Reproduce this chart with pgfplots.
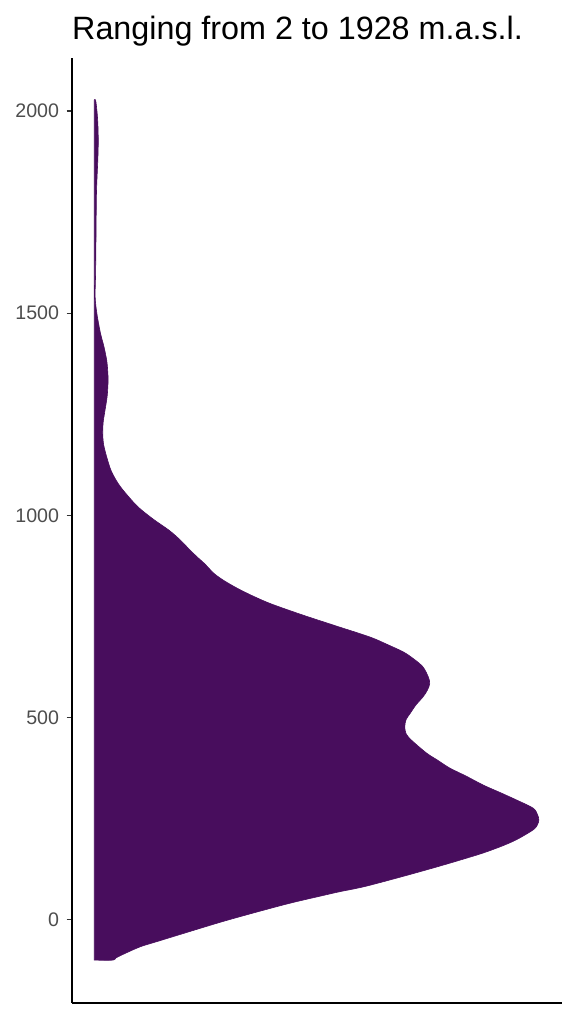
\documentclass[border=0pt]{standalone}
\usepackage{pgfplots}
\pgfplotsset{compat=1.18}
\usepackage{fontspec}
\setmainfont{Liberation Sans}
\definecolor{vfill}{RGB}{72,13,93}
\definecolor{ticklab}{RGB}{77,77,77}
\begin{document}
\begin{tikzpicture}
\useasboundingbox (-72pt,-21pt) rectangle (502pt,1003pt);
\begin{axis}[
  width=490pt, height=945pt, scale only axis,
  xmin=-0.05, xmax=1.05, ymin=-206, ymax=2131,
  axis x line*=bottom, axis y line*=left,
  axis line style={line width=1.3pt, black, -},
  xtick=\empty,
  ytick={0,500,1000,1500,2000},
  tick align=outside, major tick length=5.5pt,
  ytick style={line width=1.1pt, color=black!80},
  yticklabel style={font=\fontsize{19.6}{20}\selectfont, text=ticklab, xshift=-4pt},
  /pgf/number format/assume math mode=true,
  /pgf/number format/set thousands separator={},
  title={Ranging from 2 to 1928 m.a.s.l.},
  title style={font=\fontsize{32.3}{34}\selectfont, anchor=base west, at={(0,1)}, yshift=12.5pt, inner sep=0pt},
  clip=false,
]
\addplot[fill=vfill, draw=vfill, line width=0.6pt, smooth, tension=0.5] table[x=u, y=y] {
u y
0 -100
0.042 -100
0.048 -95
0.066 -85
0.103 -67
0.141 -54
0.215 -29
0.290 -4
0.365 19
0.440 41
0.510 59
0.550 69
0.607 82
0.686 105
0.761 128
0.820 147
0.873 165
0.915 182
0.948 198
0.985 222
0.995 235
0.998 247
0.995 260
0.985 276
0.948 296
0.910 315
0.873 333
0.835 355
0.798 375
0.770 395
0.746 412
0.712 444
0.700 460
0.697 477
0.700 495
0.709 510
0.722 531
0.738 551
0.748 568
0.753 584
0.750 600
0.738 625
0.717 645
0.694 662
0.657 681
0.619 699
0.544 726
0.469 753
0.397 781
0.357 800
0.322 819
0.292 838
0.269 856
0.248 880
0.231 897
0.215 914
0.192 940
0.168 963
0.133 990
0.099 1020
0.074 1050
0.054 1078
0.038 1110
0.028 1144
0.021 1175
0.019 1202
0.020 1230
0.024 1259
0.029 1295
0.031 1333
0.030 1360
0.028 1383
0.022 1416
0.014 1450
0.006 1498
0.002 1540
0.003 1600
0.004 1700
0.005 1800
0.008 1880
0.009 1926
0.008 1970
0.006 2000
0.003 2027
0 2027
} -- cycle;
\end{axis}
\end{tikzpicture}
\end{document}
